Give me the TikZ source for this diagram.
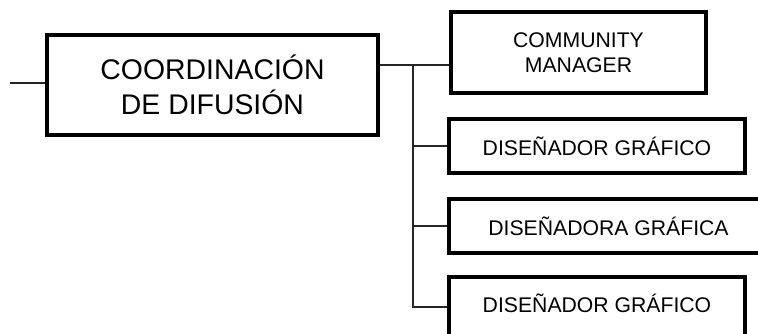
\documentclass[tikz,border=0pt]{standalone}
\usepackage{fontspec}
\setmainfont{Liberation Sans}
\begin{document}
\begin{tikzpicture}[x=1pt,y=1pt,
  boxstyle/.style={draw=black, line width=4pt, fill=white, inner sep=0pt, align=center},
  smalltext/.style={font=\fontsize{21.2}{25}\selectfont},
  conn/.style={draw=black!85, line width=1.2pt}]
\useasboundingbox (0,0) rectangle (758,-333);
\begin{scope}
\clip (0,0) rectangle (758,-333);
\node[boxstyle, minimum width=331pt, minimum height=100pt, font=\fontsize{28.4}{35}\selectfont] (main) at (212.5,-85) {COORDINACIÓN\\DE DIFUSIÓN};
\node[boxstyle, smalltext, minimum width=255pt, minimum height=81pt] (cm) at (578.5,-52.5) {COMMUNITY\\MANAGER};
\node[boxstyle, smalltext, minimum width=296pt, minimum height=54pt] (d1) at (597,-146) {DISEÑADOR GRÁFICO};
\node[boxstyle, smalltext, minimum width=319pt, minimum height=54pt] (d2) at (608.5,-226) {DISEÑADORA GRÁFICA};
\node[boxstyle, smalltext, minimum width=296pt, minimum height=62pt, text height=15pt, text depth=6pt] (d3) at (597,-308) {DISEÑADOR GRÁFICO};
\coordinate (lin) at (10,-83);
\coordinate (bus) at (413,-65);
\coordinate (low) at (413,-307);
\draw[conn] (lin) -- (main.west|-lin);
\draw[conn] (main.east|-bus) -- (bus) -- (cm.west|-bus);
\draw[conn] (bus) -- (low) -- (d3.west|-low);
\draw[conn] (bus|-d1.west) -- (d1.west);
\draw[conn] (bus|-d2.west) -- (d2.west);
\end{scope}
\end{tikzpicture}
\end{document}
